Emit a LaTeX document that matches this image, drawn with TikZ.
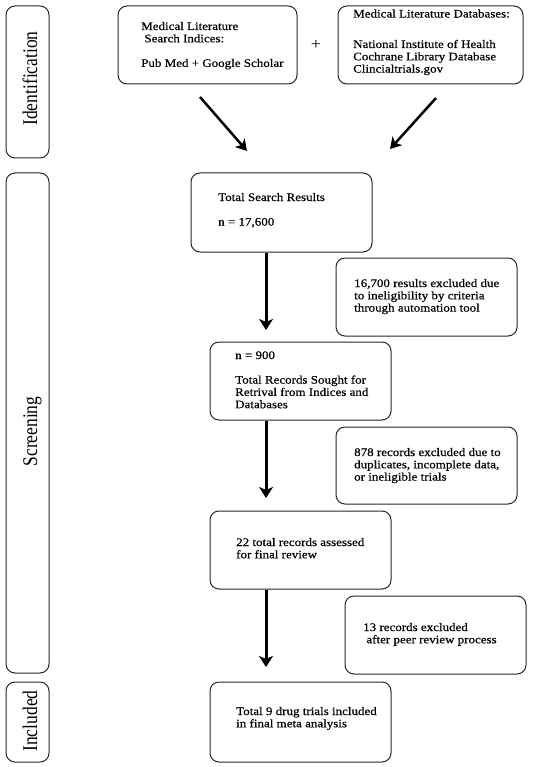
\documentclass[tikz,border=0pt]{standalone}
\usepackage{fontspec}
\setmainfont{Liberation Serif}
\newfontfamily\boxfont{Liberation Serif}[FakeBold=0.5]
\usetikzlibrary{arrows.meta}
\newcommand{\txtblock}[1]{\scalebox{1.13}[1]{\boxfont\fontsize{11.5}{12.3}\selectfont\begin{tabular}[t]{@{}l@{}}#1\end{tabular}}}
\newcommand{\sidelabel}[1]{\scalebox{1}[1.19]{\fontsize{17.5}{20}\selectfont #1}}
\begin{document}
\begin{tikzpicture}[x=1pt,y=-1pt,
  box/.style={draw=black!85, line width=1pt, rounded corners=9pt, inner sep=0pt},
  txt/.style={anchor=base west, inner sep=0pt, text=black},
  side/.style={rotate=90, anchor=base, inner sep=0pt},
  varrow/.style={line width=3pt, -{Stealth[length=11pt,width=14pt,inset=3pt]}},
  darrow/.style={line width=2.5pt, -{Stealth[length=11pt,width=13pt,inset=3pt]}}]
\useasboundingbox (0,0) rectangle (550,767);
% stage boxes
\node[box, minimum width=43pt, minimum height=152pt] (ident) at (27.5,82) {};
\node[box, minimum width=43pt, minimum height=500pt] (screen) at (27.5,423) {};
\node[box, minimum width=43pt, minimum height=80pt] (incl) at (27.5,722) {};
\node[side] (identlbl) at (37,78.5) {\sidelabel{Identification}};
\node[side] (screenlbl) at (37,431.5) {\sidelabel{Screening}};
\node[side] (incllbl) at (37,721) {\sidelabel{Included}};
% flow boxes
\node[box, minimum width=179pt, minimum height=78pt] (A) at (207.5,45) {};
\node[box, minimum width=185pt, minimum height=78pt] (B) at (430.5,45) {};
\node[box, minimum width=181pt, minimum height=79pt] (total) at (281.5,212.5) {};
\node[box, minimum width=181pt, minimum height=78pt] (ex1) at (426.5,297) {};
\node[box, minimum width=181pt, minimum height=78pt] (n900) at (300.5,381) {};
\node[box, minimum width=181pt, minimum height=77pt] (ex2) at (426.5,465.5) {};
\node[box, minimum width=181pt, minimum height=78pt] (r22) at (300.5,550) {};
\node[box, minimum width=181pt, minimum height=78pt] (ex3) at (435.5,635) {};
\node[box, minimum width=181pt, minimum height=80pt] (final) at (300.5,722) {};
% texts
\node[txt] (tA) at (141,30) {\txtblock{Medical Literature\\ \ Search Indices:\\ \\ Pub Med + Google Scholar}};
\node (plus) at (316,45) {\scalebox{1.13}[1]{\fontsize{16}{16}\selectfont +}};
\node[txt] (tB1) at (353,17.5) {\txtblock{Medical Literature Databases:}};
\node[txt] (tB2) at (353,48) {\txtblock{National Institute of Health\\ Cochrane Library Database\\ Clincialtrials.gov}};
\node[txt] (tTot) at (218,201) {\txtblock{Total Search Results\\ \\ n = 17,600}};
\node[txt] (tEx1) at (354,287) {\txtblock{16,700 results excluded due\\ to ineligibility by criteria\\ through automation tool}};
\node[txt] (tN) at (235,359) {\txtblock{n = 900\\ \\ Total Records Sought for\\ Retrival from Indices and\\ Databases}};
\node[txt] (tEx2) at (354,456) {\txtblock{878 records excluded due to\\ duplicates, incomplete data,\\ or ineligible trials}};
\node[txt] (t22) at (236,546) {\txtblock{22 total records assessed\\ for final review}};
\node[txt] (tEx3) at (363,631) {\txtblock{13 records excluded\\ \ after peer review process}};
\node[txt] (tFin) at (236,715) {\txtblock{Total 9 drug trials included\\ in final meta analysis}};
% arrow end points
\coordinate (dA1) at (200,97);
\coordinate (dA2) at (247,151);
\coordinate (dB1) at (436,98);
\coordinate (dB2) at (390,149);
\coordinate (t1) at (266,330);
\coordinate (t2) at (266,498);
\coordinate (t3) at (266,667);
\draw[darrow] (dA1) -- (dA2);
\draw[darrow] (dB1) -- (dB2);
\draw[varrow] (total.south -| t1) -- (t1);
\draw[varrow] (n900.south -| t2) -- (t2);
\draw[varrow] (r22.south -| t3) -- (t3);
\end{tikzpicture}
\end{document}
